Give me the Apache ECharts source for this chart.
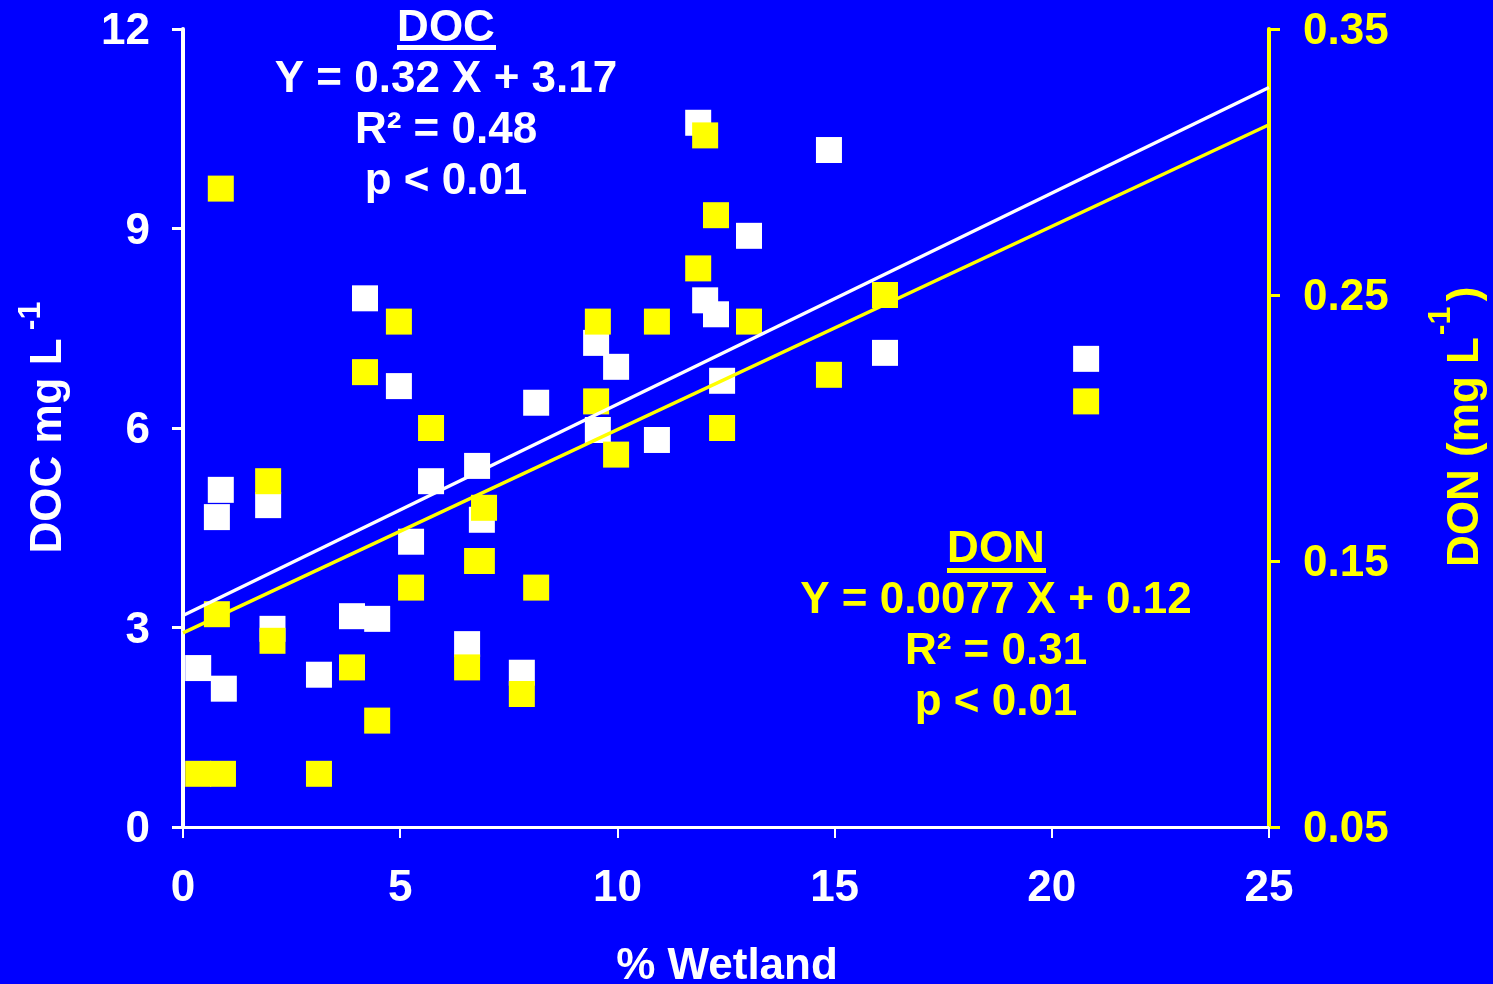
<!DOCTYPE html>
<html><head><meta charset="utf-8">
<script src="https://cdn.jsdelivr.net/npm/echarts@6/dist/echarts.min.js"></script>
<style>html,body{margin:0;padding:0;background:#0000ff;overflow:hidden}#c{width:1493px;height:984px}</style>
</head><body><div id="c"></div>
<script>
// ---- data ----
const xTicks = [0, 5, 10, 15, 20, 25];
const docTicks = [0, 3, 6, 9, 12];
const donTicks = [0.05, 0.15, 0.25, 0.35];

// DOC (mg/L) vs % wetland
const docX = [0.35,0.78,0.87,0.94,1.96,2.06,3.13,3.89,4.19,4.47,4.97,5.25,5.71,6.54,6.77,6.88,7.80,8.13,9.51,9.55,9.97,10.91,11.86,12.02,12.27,12.41,13.03,14.87,16.16,20.79];
const docY = [2.39,4.66,5.07,2.08,4.84,2.98,2.29,3.17,7.95,3.13,6.63,4.29,5.20,2.75,5.43,4.62,2.32,6.38,7.28,5.97,6.92,5.82,10.59,7.92,7.71,6.71,8.89,10.18,7.13,7.04];

// DON (mg/L) vs % wetland
const donX = [0.35,0.92,3.13,0.78,2.06,1.96,0.87,3.89,4.47,4.19,4.97,5.25,5.71,6.54,6.77,6.88,6.93,7.80,8.13,9.55,9.51,9.97,10.91,11.86,12.02,12.27,12.41,13.03,14.87,16.16,20.79];
const donY = [0.070,0.070,0.070,0.130,0.120,0.180,0.290,0.110,0.090,0.221,0.240,0.140,0.200,0.110,0.150,0.150,0.170,0.100,0.140,0.240,0.210,0.190,0.240,0.260,0.310,0.280,0.200,0.240,0.220,0.250,0.210];

// regression lines (end points)
const docFitX = [0, 25];
const docFitY = [3.18, 11.12];
const donFitX = [0, 25];
const donFitY = [0.123, 0.314];

const docText = ['DOC', 'Y = 0.32 X + 3.17', 'R² = 0.48', 'p < 0.01'];
const donText = ['DON', 'Y = 0.0077 X + 0.12', 'R² = 0.31', 'p < 0.01'];
const xTitle = '% Wetland';
const leftTitle = 'DOC mg L';
const rightTitle = 'DON (mg L';
const supText = '-1';

// ---- build ----
const WHITE = '#ffffff', YELLOW = '#ffff00', BLUE = '#0000ff';
const FONT = '"Liberation Sans", Arial, Helvetica, sans-serif';
const zip = (a, b) => a.map((v, i) => [v, b[i]]);

function txt(str, x, y, color, size, rot, align) {
  return {
    type: 'text', x: x, y: y, rotation: rot || 0, z: 100,
    style: {
      text: str, x: 0, y: 0, fill: color,
      fontSize: size, fontWeight: 'bold', fontFamily: FONT,
      align: align || 'center', textAlign: align || 'center',
      verticalAlign: 'middle', textVerticalAlign: 'middle'
    }
  };
}
function bar(x, y, w, h, color) {
  return { type: 'rect', x: x, y: y, z: 100, shape: { x: 0, y: 0, width: w, height: h }, style: { fill: color } };
}

const lineH = 51;
const graphics = [];
docText.forEach((t, i) => graphics.push(txt(t, 446, 29 + i * lineH, WHITE, 44)));
graphics.push(bar(397, 45, 99, 5, WHITE));
donText.forEach((t, i) => graphics.push(txt(t, 996, 550 + i * lineH, YELLOW, 44)));
graphics.push(bar(947, 568, 99, 5, YELLOW));
graphics.push(txt(xTitle, 727, 967, WHITE, 44));
graphics.push(txt(leftTitle, 49, 446, WHITE, 44, Math.PI / 2));
graphics.push(txt(supText, 31, 316, WHITE, 32, Math.PI / 2));
graphics.push(txt(rightTitle, 1466, 452, YELLOW, 44, Math.PI / 2));
graphics.push(txt(supText, 1441, 321, YELLOW, 32, Math.PI / 2));
graphics.push(txt(')', 1466, 294, YELLOW, 44, Math.PI / 2));

const labelRich = (color) => ({ v: { color: color, fontSize: 44, fontWeight: 'bold', fontFamily: FONT, padding: [6, 0, 0, 0] } });

const chart = echarts.init(document.getElementById('c'), null, { renderer: 'canvas' });
chart.setOption({
  backgroundColor: BLUE,
  animation: false,
  grid: { left: 183, right: 224, top: 29, bottom: 157, containLabel: false },
  xAxis: {
    type: 'value', min: xTicks[0], max: xTicks[xTicks.length - 1], interval: 5,
    axisLine: { show: true, lineStyle: { color: WHITE, width: 3 } },
    axisTick: { show: true, length: 11, lineStyle: { color: WHITE, width: 2 } },
    axisLabel: { color: WHITE, fontSize: 44, fontWeight: 'bold', fontFamily: FONT, margin: 40 },
    splitLine: { show: false }
  },
  yAxis: [
    {
      type: 'value', position: 'left', min: docTicks[0], max: docTicks[docTicks.length - 1], interval: 3,
      axisLine: { show: true, lineStyle: { color: WHITE, width: 4 } },
      axisTick: { show: true, length: 11, lineStyle: { color: WHITE, width: 3 } },
      axisLabel: { color: WHITE, fontSize: 44, fontWeight: 'bold', fontFamily: FONT, margin: 33,
        formatter: v => '{v|' + v + '}', rich: labelRich(WHITE) },
      splitLine: { show: false }
    },
    {
      type: 'value', position: 'right', min: donTicks[0], max: donTicks[donTicks.length - 1],
      axisLine: { show: true, lineStyle: { color: YELLOW, width: 4 } },
      axisTick: { show: true, length: 11, customValues: donTicks, lineStyle: { color: YELLOW, width: 3 } },
      axisLabel: { color: YELLOW, fontSize: 44, fontWeight: 'bold', fontFamily: FONT, margin: 34,
        customValues: donTicks, formatter: v => '{v|' + Number(v).toFixed(2) + '}', rich: labelRich(YELLOW) },
      splitLine: { show: false }
    }
  ],
  series: [
    { type: 'scatter', name: 'DOC', yAxisIndex: 0, symbol: 'rect', symbolSize: 26,
      itemStyle: { color: WHITE, opacity: 1 }, data: zip(docX, docY), z: 2 },
    { type: 'scatter', name: 'DON', yAxisIndex: 1, symbol: 'rect', symbolSize: 26,
      itemStyle: { color: YELLOW, opacity: 1 }, data: zip(donX, donY), z: 3 },
    { type: 'line', name: 'DOC fit', yAxisIndex: 0, showSymbol: false, symbol: 'none',
      lineStyle: { color: WHITE, width: 3.5 }, data: zip(docFitX, docFitY), z: 4 },
    { type: 'line', name: 'DON fit', yAxisIndex: 1, showSymbol: false, symbol: 'none',
      lineStyle: { color: YELLOW, width: 3.5 }, data: zip(donFitX, donFitY), z: 4 }
  ],
  graphic: graphics
});
</script>
</body></html>
